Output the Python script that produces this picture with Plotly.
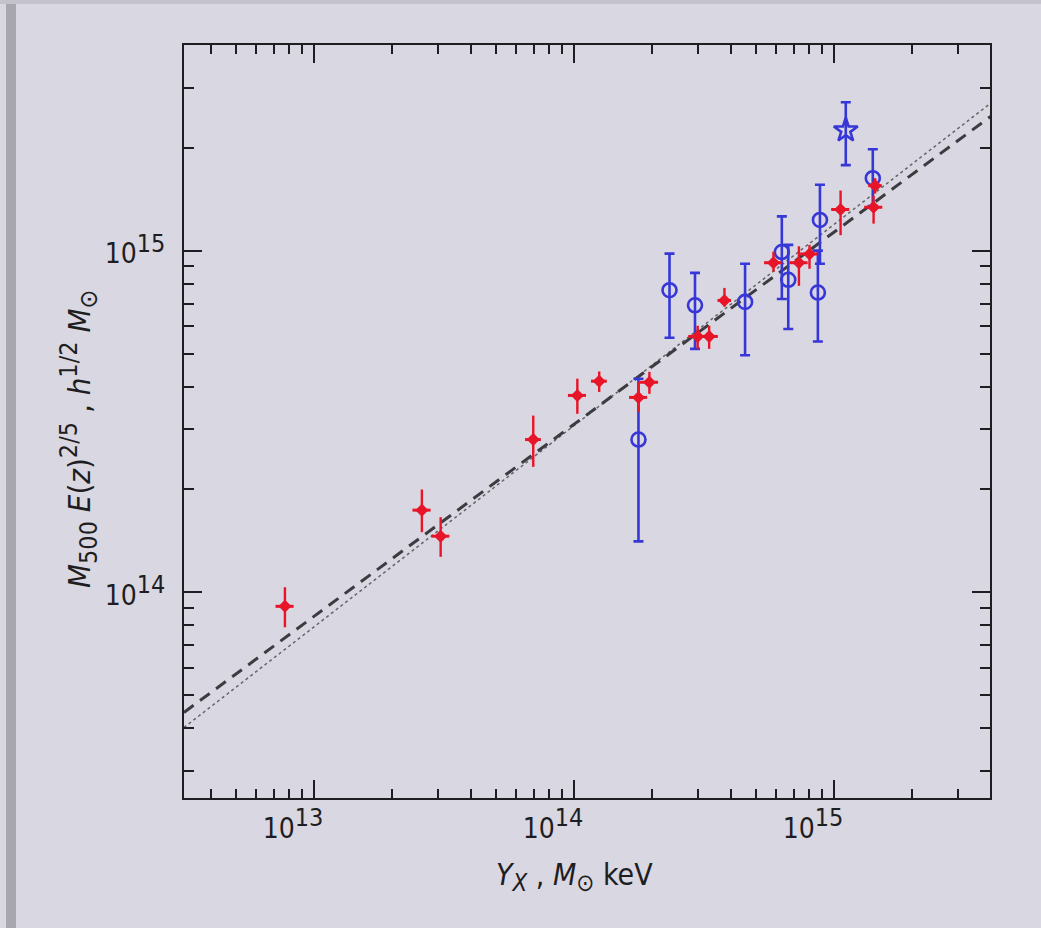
import plotly.graph_objects as go

# Y_X (M_sun keV) and M500 E(z)^{2/5} (h^1/2 M_sun) for the two cluster samples
red_yx = [7.73e12, 2.60e13, 3.07e13, 6.97e13, 1.03e14, 1.25e14, 1.77e14, 1.95e14,
          2.99e14, 3.31e14, 3.79e14, 5.85e14, 7.33e14, 8.05e14, 1.06e15, 1.42e15, 1.44e15]
red_m = [9.1e13, 1.74e14, 1.46e14, 2.80e14, 3.77e14, 4.15e14, 3.72e14, 4.12e14,
         5.61e14, 5.61e14, 7.15e14, 9.22e14, 9.22e14, 9.78e14, 1.32e15, 1.34e15, 1.55e15]
red_m_hi = [1.035e14, 2.00e14, 1.66e14, 3.29e14, 4.22e14, 4.43e14, 4.13e14, 4.42e14,
            6.03e14, 6.03e14, 7.78e14, 9.93e14, 1.03e15, 1.04e15, 1.50e15, 1.45e15, 1.63e15]
red_m_lo = [7.9e13, 1.50e14, 1.27e14, 2.33e14, 3.33e14, 3.86e14, 3.37e14, 3.81e14,
            5.16e14, 5.16e14, 6.86e14, 8.68e14, 7.89e14, 8.85e14, 1.11e15, 1.20e15, 1.47e15]
red_yx_relerr = [0.08, 0.08, 0.08, 0.07, 0.08, 0.07, 0.08, 0.08,
                 0.08, 0.08, 0.06, 0.08, 0.08, 0.08, 0.08, 0.08, 0.06]

blue_yx = [1.77e14, 2.33e14, 2.92e14, 4.55e14, 6.30e14, 6.67e14, 8.67e14, 8.83e14, 1.41e15]
blue_m = [2.80e14, 7.66e14, 6.92e14, 7.08e14, 9.91e14, 8.22e14, 7.54e14, 1.23e15, 1.63e15]
blue_m_hi = [4.22e14, 9.80e14, 8.61e14, 9.16e14, 1.26e15, 1.04e15, 1.00e15, 1.56e15, 1.98e15]
blue_m_lo = [1.41e14, 5.56e14, 5.16e14, 4.94e14, 7.22e14, 5.90e14, 5.42e14, 9.16e14, 1.35e15]

star_yx = [1.11e15]
star_m = [2.25e15]
star_m_hi = [2.72e15]
star_m_lo = [1.78e15]

# best-fit power laws, endpoints across the plotted Y_X range
fit_yx = [3.16e12, 4.0e15]
fit_dashed_m = [4.45e13, 2.47e15]
fit_dotted_m = [4.02e13, 2.70e15]

x_major = [1e13, 1e14, 1e15]
x_major_exp = [13, 14, 15]
y_major = [1e14, 1e15]
y_major_exp = [14, 15]

BG = "rgb(217,215,225)"
INK = "rgb(30,30,34)"
RED = "rgb(232,20,40)"
BLUE = "rgb(55,55,215)"
FONT = "Liberation Sans Narrow, DejaVu Sans Condensed, Arial Narrow, sans-serif"


def minor_ticks(lo_exp, hi_exp):
    return [m * 10 ** e for e in range(lo_exp, hi_exp + 1) for m in range(2, 10)]


def big(s, px):
    return f"<span style='font-size:{px}px'>{s}</span>"


def power_label(exp):
    return f"10<sup>{big(exp, 25)}</sup>"


fig = go.Figure()

fig.add_trace(go.Scatter(x=fit_yx, y=fit_dotted_m, mode="lines",
                         line=dict(color="rgb(100,100,106)", width=1.5, dash="dot")))
fig.add_trace(go.Scatter(x=fit_yx, y=fit_dashed_m, mode="lines",
                         line=dict(color="rgb(60,60,64)", width=3, dash="12px,8px")))

fig.add_trace(go.Scatter(
    x=blue_yx, y=blue_m, mode="markers",
    marker=dict(symbol="circle-open", size=14, color=BLUE, line=dict(width=2.6, color=BLUE)),
    error_y=dict(type="data", symmetric=False,
                 array=[h - m for h, m in zip(blue_m_hi, blue_m)],
                 arrayminus=[m - l for m, l in zip(blue_m, blue_m_lo)],
                 color=BLUE, thickness=2.6, width=5),
))
fig.add_trace(go.Scatter(
    x=star_yx, y=star_m, mode="markers",
    marker=dict(symbol="star-open", size=18, color=BLUE, line=dict(width=2.6, color=BLUE)),
    error_y=dict(type="data", symmetric=False,
                 array=[h - m for h, m in zip(star_m_hi, star_m)],
                 arrayminus=[m - l for m, l in zip(star_m, star_m_lo)],
                 color=BLUE, thickness=2.6, width=5),
))

fig.add_trace(go.Scatter(
    x=red_yx, y=red_m, mode="markers",
    marker=dict(symbol="diamond", size=10, color=RED, line=dict(width=0)),
    error_y=dict(type="data", symmetric=False,
                 array=[h - m for h, m in zip(red_m_hi, red_m)],
                 arrayminus=[m - l for m, l in zip(red_m, red_m_lo)],
                 color=RED, thickness=2.4, width=0),
    error_x=dict(type="data", symmetric=False,
                 array=[x * r for x, r in zip(red_yx, red_yx_relerr)],
                 arrayminus=[x * r for x, r in zip(red_yx, red_yx_relerr)],
                 color=RED, thickness=3, width=0),
))

axis_common = dict(
    type="log", showgrid=False, zeroline=False,
    showline=True, linecolor=INK, linewidth=2, mirror="allticks",
    ticks="inside", ticklen=18, tickwidth=2, tickcolor=INK,
    tickfont=dict(family=FONT, size=28, color=INK),
    tickmode="array",
)

fig.update_xaxes(
    **axis_common,
    range=[12.5, 15.6],
    tickvals=x_major, ticktext=[power_label(e) for e in x_major_exp],
    ticklabelstandoff=4, ticklabelshift=-21,
    minor=dict(ticks="inside", ticklen=9, tickwidth=2, tickcolor=INK,
               tickmode="array", tickvals=minor_ticks(12, 15), showgrid=False),
)
fig.update_yaxes(
    **axis_common,
    range=[13.398, 15.602],
    tickvals=y_major, ticktext=[power_label(e) for e in y_major_exp],
    ticklabelstandoff=11, ticklabelshift=3,
    minor=dict(ticks="inside", ticklen=10, tickwidth=2, tickcolor=INK,
               tickmode="array", tickvals=minor_ticks(13, 15), showgrid=False),
)

fig.add_annotation(
    text=f"<i>Y</i><sub>{big('<i>X</i>', 24)}</sub> , <i>M</i><sub>{big('⊙', 24)}</sub> keV",
    xref="paper", yref="paper", x=0.485, y=-0.105, xanchor="center", yanchor="middle",
    showarrow=False, font=dict(family=FONT, size=30, color=INK),
)
fig.add_annotation(
    text=(f"<i>M</i><sub>{big('500', 25)}</sub> <i>E</i>(<i>z</i>)<sup>{big('2/5', 25)}</sup> , "
          f"<i>h</i><sup>{big('1/2', 25)}</sup> <i>M</i><sub>{big('⊙', 25)}</sub>"),
    xref="paper", yref="paper", x=-0.13, y=0.477, xanchor="center", yanchor="middle",
    textangle=-90, showarrow=False, font=dict(family=FONT, size=31, color=INK),
)

# grey frame edges along the left side and top of the page
fig.add_shape(type="rect", xref="paper", yref="paper",
              x0=-178 / 806, x1=-168 / 806, y0=-130 / 753, y1=798 / 753,
              fillcolor="rgb(168,167,175)", line=dict(width=0), layer="below")
fig.add_shape(type="rect", xref="paper", yref="paper",
              x0=-184 / 806, x1=857 / 806, y0=794 / 753, y1=798 / 753,
              fillcolor="rgb(196,195,203)", line=dict(width=0), layer="below")

fig.update_layout(
    width=1041, height=928,
    margin=dict(l=184, r=51, t=45, b=130),
    paper_bgcolor=BG, plot_bgcolor=BG,
    showlegend=False, hovermode=False,
    font=dict(family=FONT, color=INK),
)

fig.write_html("out.html")
